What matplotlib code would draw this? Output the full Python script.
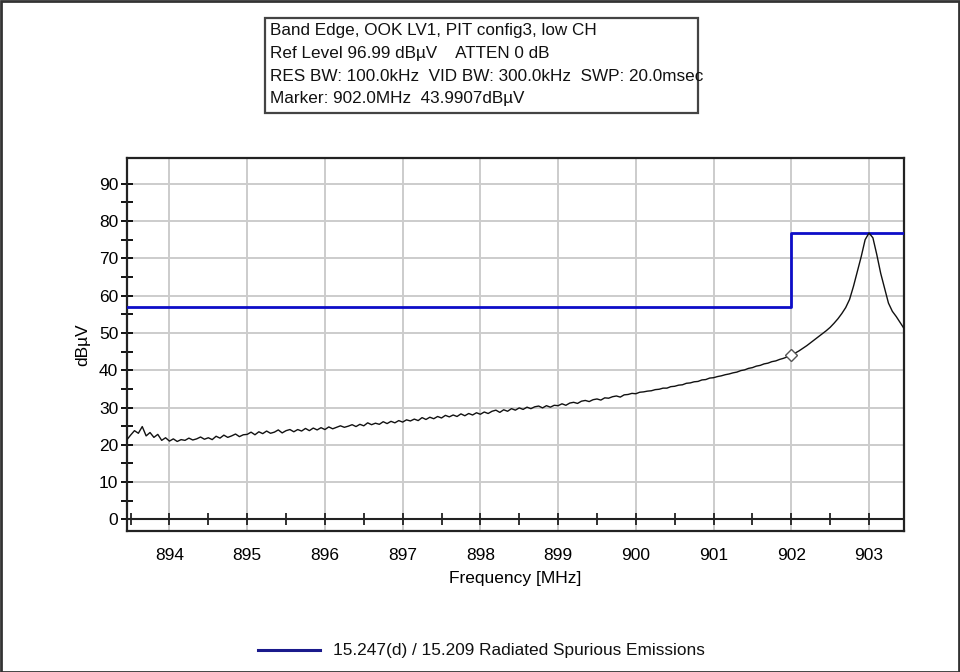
import numpy as np
import matplotlib
matplotlib.use("Agg")
import matplotlib.pyplot as plt
from matplotlib.patches import Rectangle
from matplotlib.lines import Line2D

plt.rcParams['font.family'] = ['Liberation Sans', 'DejaVu Sans']

# sweep 893.45 .. 903.45 MHz, 0.05 MHz per point
f_start, f_stop = 893.45, 903.45
level = [
    21.3, 22.6, 23.8, 23.1, 24.9, 22.4, 23.3, 22.0, 22.8, 21.2, 21.9,
    21.0, 21.6, 20.9, 21.4, 21.2, 21.8, 21.3, 21.6, 22.1, 21.5,
    21.9, 21.4, 22.3, 21.8, 22.6, 22.0, 22.4, 22.9, 22.2, 22.7,
    22.8, 23.4, 22.7, 23.5, 23.0, 23.7, 23.1, 23.4, 24.0, 23.2,
    23.8, 24.1, 23.5, 24.1, 23.7, 24.4, 23.8, 24.5, 24.0, 24.6,
    24.1, 24.8, 24.3, 24.7, 25.1, 24.7, 25.0, 25.4, 24.9, 25.5,
    25.1, 25.9, 25.4, 25.8, 25.5, 26.2, 25.7, 26.3, 25.9, 26.5,
    26.1, 26.7, 26.4, 26.9, 26.5, 27.3, 26.8, 27.4, 27.0, 27.6,
    27.2, 27.9, 27.5, 28.0, 27.6, 28.3, 27.8, 28.4, 28.0, 28.6,
    28.2, 28.8, 28.4, 29.0, 29.3, 28.7, 29.4, 29.0, 29.7, 29.3,
    29.9, 29.5, 30.1, 29.7, 30.2, 30.4, 29.9, 30.5, 30.1, 30.6,
    30.5, 31.0, 30.6, 31.2, 31.4, 31.1, 31.7, 31.9, 31.6, 32.1,
    32.3, 32.0, 32.6, 32.5, 32.9, 33.1, 32.8, 33.4, 33.5, 33.8,
    33.7, 34.1, 34.2, 34.4, 34.5, 34.8, 34.9, 35.2, 35.2, 35.6,
    35.7, 36.0, 36.1, 36.5, 36.6, 36.9, 37.0, 37.4, 37.5, 37.9,
    38.0, 38.3, 38.5, 38.8, 39.0, 39.3, 39.5, 39.9, 40.1, 40.5,
    40.7, 41.1, 41.3, 41.7, 41.9, 42.3, 42.5, 42.9, 43.2, 43.6,
    44.0,
    44.6, 45.2, 45.9, 46.6, 47.4, 48.2, 49.0, 49.8, 50.6, 51.5,
    52.6, 53.8, 55.2, 56.8, 59.0, 62.5, 66.5, 70.5, 75.0,
    76.8,
    75.5, 71.0, 66.0, 62.0, 58.0, 55.8, 54.4, 52.8, 51.2,
]
freq = np.linspace(f_start, f_stop, len(level))

# 15.247(d) / 15.209 limit line
limit_freq = [893.45, 902.0, 902.0, 903.45]
limit_level = [56.9, 56.9, 76.9, 76.9]

marker_freq = 902.0
marker_level = 43.9907

x_ticks = [894, 895, 896, 897, 898, 899, 900, 901, 902, 903]
y_ticks = [0, 10, 20, 30, 40, 50, 60, 70, 80, 90]

header_lines = [
    "Band Edge, OOK LV1, PIT config3, low CH",
    "Ref Level 96.99 dBµV    ATTEN 0 dB",
    "RES BW: 100.0kHz  VID BW: 300.0kHz  SWP: 20.0msec",
    "Marker: 902.0MHz  43.9907dBµV",
]
legend_label = "15.247(d) / 15.209 Radiated Spurious Emissions"

W, H = 960, 672
fig = plt.figure(figsize=(W / 100, H / 100), dpi=100)
ax = fig.add_axes([126.7 / W, 1 - 531 / H, (904 - 126.7) / W, (531 - 158) / H])

ax.set_xlim(f_start, f_stop)
ax.set_ylim(-3.1, 96.9)

ax.set_xticks(x_ticks)
ax.set_xticks(np.arange(893.5, 903.5, 0.5), minor=True)
ax.set_yticks(y_ticks)
ax.set_yticks(np.arange(5, 95, 10), minor=True)
ax.grid(True, which='major', color='#cccccc', linewidth=1.4)
ax.set_axisbelow(True)

ax.tick_params(axis='x', which='both', length=0, pad=12, labelsize=12.5)
ax.tick_params(axis='y', which='both', direction='inout', length=8, width=1.3,
               labelsize=12.5, pad=2)
for s in ax.spines.values():
    s.set_linewidth(1.6)
    s.set_color('#222222')

# zero line with its own tick marks
ax.axhline(0, color='#222222', linewidth=1.5, zorder=2)
ax.plot(np.arange(893.5, 903.5, 0.5), np.zeros(20), ls='none', marker='|',
        ms=8, mew=1.3, color='#222222', zorder=2, clip_on=False)

ax.plot(limit_freq, limit_level, color='#0d0dc8', linewidth=2.0, zorder=3)
ax.plot(freq, level, color='#111111', linewidth=1.0, zorder=4)
ax.plot([marker_freq], [marker_level], marker='D', ms=6.5, mfc='white',
        mec='#555555', mew=1.0, zorder=5)

ax.set_xlabel("Frequency [MHz]", fontsize=12.5, labelpad=6)
ax.set_ylabel("dBµV", fontsize=12.5, labelpad=6)

# header box
fig.patches.append(Rectangle((265 / W, 1 - 113 / H), (698 - 265) / W, (113 - 18) / H,
                             transform=fig.transFigure, fill=False,
                             edgecolor='#444444', linewidth=1.6))
for k, line in enumerate(header_lines):
    fig.text(270 / W, 1 - (31 + 22.6 * k) / H, line, fontsize=12.3,
             ha='left', va='center', color='#111111')

# legend
fig.lines.append(Line2D([258 / W, 320 / W], [1 - 650 / H, 1 - 650 / H],
                        transform=fig.transFigure, color='#1a1a8c', linewidth=2.2))
fig.text(333 / W, 1 - 650 / H, legend_label, fontsize=12.4, ha='left', va='center',
         color='#111111')

# outer frame
fig.patches.append(Rectangle((0.5 / W, 0.5 / H), (W - 1.5) / W, (H - 1.5) / H,
                             transform=fig.transFigure, fill=False,
                             edgecolor='#333333', linewidth=2))

fig.savefig("out.png", dpi=100)
